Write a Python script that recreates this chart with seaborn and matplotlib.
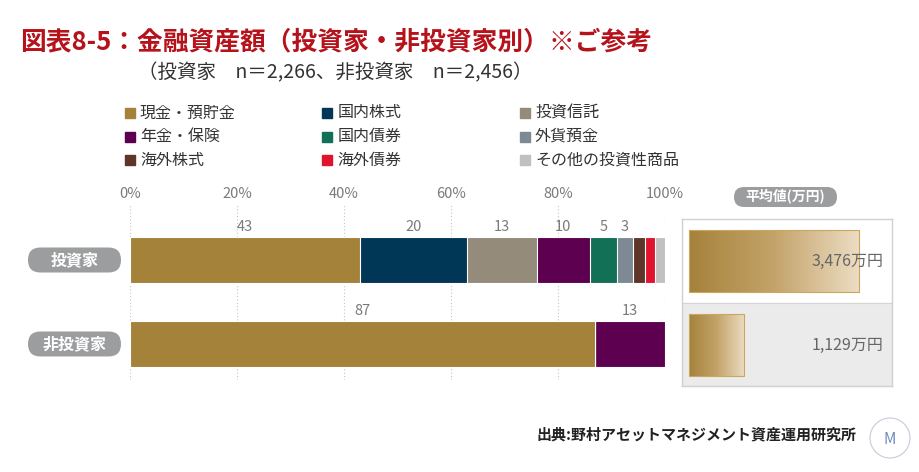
import numpy as np
import pandas as pd
import matplotlib.pyplot as plt
import seaborn as sns
from matplotlib.patches import FancyBboxPatch, Rectangle, Circle
from matplotlib.colors import LinearSegmentedColormap

# data
groups = ["投資家", "非投資家"]
categories = ["現金・預貯金", "国内株式", "投資信託", "年金・保険", "国内債券",
              "外貨預金", "海外株式", "海外債券", "その他の投資性商品"]
colors = ["#a5823a", "#003756", "#958b7b", "#5c004f", "#117055",
          "#7d8a93", "#5e3528", "#e0142e", "#c0c0c0"]
investor_pct = [43, 20, 13, 10, 5, 3, 2.3, 1.9, 1.8]
non_investor_pct = [87, 0, 0, 13, 0, 0, 0, 0, 0]
avg_values = [3476, 1129]
avg_labels = ["3,476万円", "1,129万円"]
x_ticks = [0, 20, 40, 60, 80, 100]

title = "図表8-5：金融資産額（投資家・非投資家別）※ご参考"
subtitle = "（投資家　n＝2,266、非投資家　n＝2,456）"
source = "出典:野村アセットマネジメント資産運用研究所"

W, H = 920, 472
sns.set_theme(style="white")
plt.rcParams["font.family"] = ["Noto Sans CJK JP", "DejaVu Sans"]

fig = plt.figure(figsize=(W / 100, H / 100), dpi=100)
bg = fig.add_axes([0, 0, 1, 1])
bg.set_xlim(0, W)
bg.set_ylim(H, 0)
bg.axis("off")


def px_axes(x0, y0, x1, y1):
    return fig.add_axes([x0 / W, 1 - y1 / H, (x1 - x0) / W, (y1 - y0) / H])


def to_bg_y(ax, yval):
    disp = ax.transData.transform((0, yval))
    return bg.transData.inverted().transform(disp)[1]


# titles
bg.text(20, 42, title, color="#b5121b", fontsize=18.5, fontweight="bold", va="center")
bg.text(138, 73, subtitle, color="#333333", fontsize=14, va="center")

# legend (row-wise, 3 columns)
for i, (cat, col) in enumerate(zip(categories, colors)):
    lx = 125 + 197.5 * (i % 3)
    ly = 113 + 23.5 * (i // 3)
    bg.add_patch(Rectangle((lx, ly - 5), 10, 10, color=col))
    bg.text(lx + 15, ly, cat, va="center", fontsize=11.5, color="#333333")

# stacked bars
rows = []
for g, vals in zip(groups, [investor_pct, non_investor_pct]):
    for c, v, cu in zip(categories, vals, np.cumsum(vals)):
        rows.append({"group": g, "category": c, "value": v, "cum": cu})
df = pd.DataFrame(rows)

ax = px_axes(130, 205, 665, 380)
ax.set_facecolor("none")
bar_h = 46 / 84
for cat, col in reversed(list(zip(categories, colors))):
    sub = df[df["category"] == cat]
    sns.barplot(data=sub, x="cum", y="group", order=groups, orient="h",
                color=col, saturation=1, width=bar_h, edgecolor="white",
                linewidth=0.8, errorbar=None, ax=ax)

for gi, vals in enumerate([investor_pct, non_investor_pct]):
    starts = np.cumsum(vals) - np.array(vals)
    for s, v in zip(starts, vals):
        if v >= 3:
            ax.annotate(f"{v:.0f}", xy=(s + v / 2, gi - bar_h / 2), xytext=(0, 2),
                        textcoords="offset points", ha="center", va="bottom",
                        fontsize=10.5, color="#7a7a7a")

ax.set_xlim(0, 100)
ax.set_ylim(1.429, -0.655)
ax.set_xticks(x_ticks)
ax.set_xticklabels([f"{t}%" for t in x_ticks])
ax.xaxis.tick_top()
ax.tick_params(axis="x", length=0, pad=3, labelsize=10.5, labelcolor="#7a7a7a")
ax.set_yticks([])
ax.set_xlabel("")
ax.set_ylabel("")
sns.despine(ax=ax, left=True, bottom=True, top=True, right=True)
ax.grid(axis="x", linestyle=(0, (1, 2)), color="#c4c4c4", linewidth=0.8)
ax.set_axisbelow(True)

# group pills
for gi, g in enumerate(groups):
    yc = to_bg_y(ax, gi)
    bg.add_patch(FancyBboxPatch((28, yc - 12.5), 93, 25,
                                boxstyle="round,pad=0,rounding_size=12.5",
                                fc="#9b9d9e", ec="none"))
    bg.text(74.5, yc, g, color="white", fontsize=11.5, fontweight="bold",
            ha="center", va="center")

# average panel
rax = px_axes(682, 219, 892, 386)
avg_df = pd.DataFrame({"group": groups, "avg": avg_values})
sns.barplot(data=avg_df, x="avg", y="group", order=groups, orient="h",
            color="#a5823a", saturation=1, width=62 / 84, errorbar=None, ax=rax)
bars = list(rax.patches)
cmap = LinearSegmentedColormap.from_list("gold", ["#a5823a", "#c4a36a", "#ecdcc2"])
grad = np.linspace(0, 1, 256).reshape(1, -1)
for p in bars:
    x0, y0, w, h = p.get_x(), p.get_y(), p.get_width(), p.get_height()
    im = rax.imshow(grad, extent=[x0, x0 + w, y0 + h, y0], aspect="auto",
                    cmap=cmap, zorder=2)
    im.set_clip_path(p)
    p.set_facecolor("none")
    p.set_edgecolor("#c9a75c")
    p.set_linewidth(0.8)
    p.set_zorder(3)

rax.set_xlim(-143, 4151)
rax.set_ylim(1.488, -0.5)
rax.axhspan(0.5, 1.488, color="#ebebeb", zorder=0)
rax.axhline(0.5, color="#d6d6d6", linewidth=0.8, zorder=1)
for gi, lbl in enumerate(avg_labels):
    rax.annotate(lbl, xy=(1, gi), xycoords=("axes fraction", "data"), xytext=(-6, 0),
                 textcoords="offset points", ha="right", va="center",
                 fontsize=11.5, color="#666666", zorder=4)
rax.set_xticks([])
rax.set_yticks([])
rax.set_xlabel("")
rax.set_ylabel("")
for sp in rax.spines.values():
    sp.set_color("#d0d0d0")
    sp.set_linewidth(1)

bg.add_patch(FancyBboxPatch((734, 187), 103, 20, boxstyle="round,pad=0,rounding_size=10",
                            fc="#9b9d9e", ec="none"))
bg.text(785.5, 197, "平均値(万円)", color="white", fontsize=10, fontweight="bold",
        ha="center", va="center")

# source + logo
bg.text(857, 434, source, ha="right", va="center", fontsize=10.8,
        fontweight="bold", color="#222222")
bg.add_patch(Circle((890, 438), 20, fill=False, ec="#c5ccd8", lw=0.8))
bg.text(890, 439, "M", ha="center", va="center", fontsize=11, color="#6f8cc0")

fig.savefig("out.png", dpi=100)
